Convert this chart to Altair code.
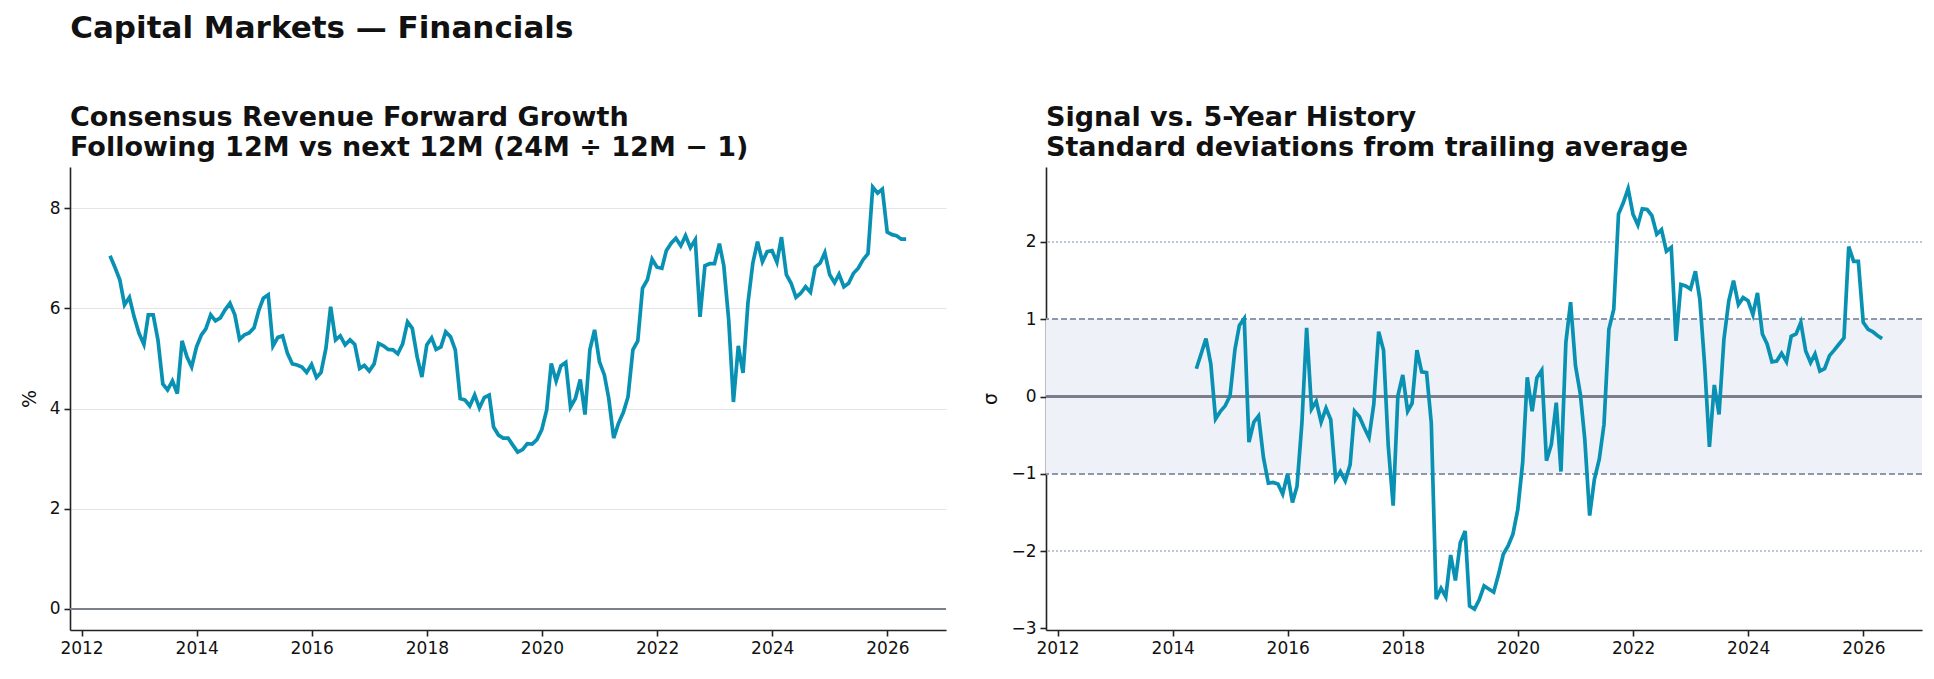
import altair as alt
import pandas as pd

# ---- data (monthly, month-end) ----
dates = pd.date_range("2012-06-30", periods=167, freq="ME").strftime("%Y-%m-%d").tolist()

growth = [
    7.05, 6.82, 6.57, 6.07, 6.22, 5.83, 5.5, 5.28, 5.87, 5.87,
    5.37, 4.49, 4.37, 4.55, 4.3, 5.35, 5.03, 4.83, 5.23, 5.47,
    5.59, 5.87, 5.75, 5.81, 5.97, 6.1, 5.87, 5.38, 5.47, 5.51,
    5.61, 5.97, 6.2, 6.27, 5.25, 5.42, 5.45, 5.1, 4.89, 4.87,
    4.83, 4.72, 4.88, 4.62, 4.72, 5.2, 6.03, 5.37, 5.45, 5.27,
    5.37, 5.28, 4.8, 4.86, 4.75, 4.89, 5.3,
    5.25, 5.18, 5.17, 5.09, 5.29, 5.73, 5.6, 5.03, 4.63, 5.27,
    5.41, 5.18, 5.23, 5.53, 5.43, 5.17, 4.2, 4.17, 4.05, 4.27,
    4.01, 4.22, 4.27, 3.63, 3.47, 3.41, 3.41, 3.27, 3.13, 3.18,
    3.3, 3.29, 3.38, 3.58, 3.97, 4.9, 4.55, 4.85, 4.92, 4.03,
    4.2, 4.58, 3.88, 5.17, 5.57, 4.93, 4.67, 4.2, 3.41, 3.7,
    3.92, 4.23, 5.17, 5.35,
    6.4, 6.57, 6.98, 6.82, 6.8, 7.15, 7.3, 7.4, 7.25, 7.45,
    7.21, 7.37, 5.83, 6.85, 6.89, 6.89, 7.29, 6.85, 5.77, 4.13,
    5.25, 4.71, 6.1, 6.9, 7.33, 6.93, 7.13, 7.15, 6.92, 7.42,
    6.67, 6.5, 6.22, 6.3, 6.43, 6.32, 6.82, 6.9, 7.11, 6.67,
    6.51, 6.68, 6.43, 6.5, 6.7, 6.8, 6.97, 7.09, 8.42, 8.3,
    8.38, 7.52, 7.47, 7.45, 7.38, 7.38,
]

zscore = [None] * 23 + [
    0.36, 0.55, 0.75, 0.42, -0.29, -0.19, -0.12, 0.01, 0.61, 0.92,
    1.01, -0.59, -0.33, -0.25, -0.79, -1.12, -1.11, -1.13, -1.26, -1.0,
    -1.37, -1.16, -0.34, 0.89, -0.16, -0.06, -0.33, -0.15, -0.3, -1.07,
    -0.97, -1.09, -0.88, -0.19, -0.26, -0.4, -0.53, -0.1, 0.84, 0.6,
    -0.64, -1.41, 0.01, 0.28, -0.19, -0.09, 0.6, 0.32, 0.31, -0.34,
    -2.62, -2.48, -2.59, -2.05, -2.38, -1.89, -1.74, -2.71, -2.75, -2.63,
    -2.45, -2.49, -2.53, -2.3, -2.04, -1.93, -1.78, -1.46, -0.85,
    0.25, -0.19, 0.24, 0.34, -0.83, -0.62, -0.08, -0.97, 0.7, 1.22,
    0.4, 0.03, -0.55, -1.54, -1.07, -0.81, -0.36, 0.87, 1.13, 2.36,
    2.51, 2.69, 2.36, 2.22, 2.43, 2.42, 2.34, 2.1, 2.16, 1.88,
    1.93, 0.72, 1.45, 1.43, 1.39, 1.62, 1.26, 0.4, -0.65, 0.15,
    -0.23, 0.74, 1.24, 1.5, 1.19, 1.28, 1.24, 1.06, 1.34, 0.81,
    0.68, 0.45, 0.46, 0.56, 0.45, 0.78, 0.81, 0.96, 0.59, 0.44,
    0.55, 0.33, 0.36, 0.53, 0.6, 0.68, 0.76, 1.94, 1.75, 1.75,
    0.96, 0.87, 0.84, 0.79, 0.75,
]

left_ticks = [0, 2, 4, 6, 8]
right_ticks = [-3, -2, -1, 0, 1, 2]
year_ticks = [2012, 2014, 2016, 2018, 2020, 2022, 2024, 2026]

df = pd.DataFrame({"date": dates, "growth": growth, "z": zscore})

LINE = "#0891b2"
W, H = 876, 463
FONT = "DejaVu Sans"

x_scale = alt.Scale(domain=[alt.DateTime(year=2011, month=10, date=20),
                            alt.DateTime(year=2027, month=1, date=8)], nice=False)
x_axis = alt.Axis(values=[alt.DateTime(year=y, month=1, date=1) for y in year_ticks],
                  format="%Y", title=None, grid=False)

base = alt.Chart(df)

# ---- left panel ----
left_line = base.mark_line(color=LINE, strokeWidth=3.7).encode(
    x=alt.X("date:T", scale=x_scale, axis=x_axis),
    y=alt.Y("growth:Q", scale=alt.Scale(domain=[-0.42, 8.82], nice=False, zero=False),
            axis=alt.Axis(values=left_ticks, format="d", title="%", grid=True,
                          gridColor="#e2e4ea", gridWidth=1.1)),
)
left_zero = base.mark_rule(color="#7b7f8c", strokeWidth=1.8).encode(y=alt.datum(0))
left = alt.layer(left_zero, left_line).properties(
    width=W, height=H,
    title=alt.TitleParams(
        text=["Consensus Revenue Forward Growth",
              "Following 12M vs next 12M (24M \u00f7 12M \u2212 1)"],
        anchor="start", frame="group", fontSize=27, fontWeight="bold", font=FONT,
        color="#111111", offset=5, lineHeight=30),
)

# ---- right panel ----
band = base.mark_rect(color="#eef2f8", opacity=1).encode(
    y=alt.datum(-1), y2=alt.datum(1), x=alt.value(0), x2=alt.value(W))
r_pm1 = [alt.Chart(df).mark_rule(color="#8e97ab", strokeWidth=1.4, strokeDash=[6, 3]).encode(
    y=alt.datum(v)) for v in (-1, 1)]
r_pm2 = [alt.Chart(df).mark_rule(color="#bcc5d6", strokeWidth=1.2, strokeDash=[2, 2]).encode(
    y=alt.datum(v)) for v in (-2, 2)]
r_zero = base.mark_rule(color="#7b7f8c", strokeWidth=1.8).encode(y=alt.datum(0))
right_line = base.mark_line(color=LINE, strokeWidth=3.7).encode(
    x=alt.X("date:T", scale=x_scale, axis=x_axis),
    y=alt.Y("z:Q", scale=alt.Scale(domain=[-3.02, 2.97], nice=False, zero=False),
            axis=alt.Axis(values=right_ticks, format="d", title="\u03c3", grid=False)),
)
right = alt.layer(band, *r_pm2, *r_pm1, r_zero, right_line).properties(
    width=W, height=H,
    title=alt.TitleParams(
        text=["Signal vs. 5-Year History", "Standard deviations from trailing average"],
        anchor="start", frame="group", fontSize=27, fontWeight="bold", font=FONT,
        color="#111111", offset=5, lineHeight=30),
)

chart = alt.hconcat(left, right, spacing=34).properties(
    title=alt.TitleParams("Capital Markets \u2014 Financials", anchor="start", fontSize=31,
                          fontWeight="bold", font=FONT, color="#111111", dx=50, offset=59),
    padding={"left": 20, "top": 13, "right": 5, "bottom": 5},
    background="white",
).configure_view(stroke=None).configure_axis(
    domainColor="#222222", domainWidth=1.6, tickColor="#222222", tickWidth=1.6, tickSize=6,
    labelFont=FONT, labelFontSize=17, labelColor="#111111", labelPadding=4,
    titleFont=FONT, titleFontSize=19, titleFontWeight="normal", titleColor="#111111",
    titlePadding=10,
)

chart.save("out.html", embed_options={"renderer": "svg", "actions": False})
